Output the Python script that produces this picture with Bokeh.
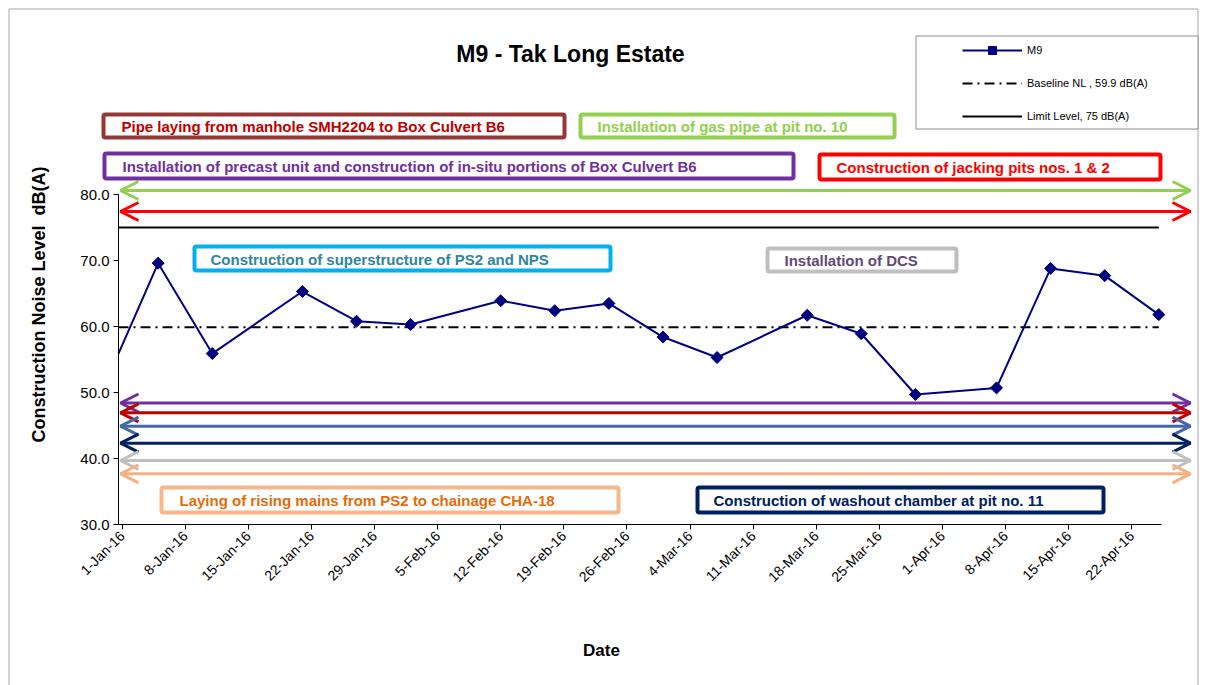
import math
from datetime import datetime

from bokeh.plotting import figure
from bokeh.models import (Range1d, FixedTicker, NumeralTickFormatter, Arrow, OpenHead,
                          BoxAnnotation, Label, Legend, LegendItem)
from bokeh.embed import file_html
from bokeh.resources import INLINE

# ------------------------------------------------------------------ data
chart_title = "M9 - Tak Long Estate"
y_axis_title = "Construction Noise Level \u00a0dB(A)"
x_axis_title = "Date"

dates = ["2015-12-30", "2016-01-05", "2016-01-11", "2016-01-21", "2016-01-27",
         "2016-02-02", "2016-02-12", "2016-02-18", "2016-02-24", "2016-03-01",
         "2016-03-07", "2016-03-17", "2016-03-23", "2016-03-29", "2016-04-07",
         "2016-04-13", "2016-04-19", "2016-04-25"]
m9_values = [50.9, 69.6, 55.9, 65.3, 60.8, 60.3, 63.9, 62.4, 63.5, 58.4,
             55.3, 61.7, 58.9, 49.7, 50.7, 68.8, 67.7, 61.8]
baseline_level = 59.9
limit_level = 75.0

series_labels = ["M9", "Baseline NL , 59.9 dB(A)", "Limit Level, 75 dB(A)"]

x_tick_labels = ["1-Jan-16", "8-Jan-16", "15-Jan-16", "22-Jan-16", "29-Jan-16",
                 "5-Feb-16", "12-Feb-16", "19-Feb-16", "26-Feb-16", "4-Mar-16",
                 "11-Mar-16", "18-Mar-16", "25-Mar-16", "1-Apr-16", "8-Apr-16",
                 "15-Apr-16", "22-Apr-16"]
y_ticks = [30, 40, 50, 60, 70, 80]

activity_texts = [
    "Pipe laying from manhole SMH2204 to Box Culvert B6",
    "Installation of gas pipe at pit no. 10",
    "Installation of precast unit and construction of in-situ portions of Box Culvert B6",
    "Construction of jacking pits nos. 1 & 2",
    "Construction of superstructure of PS2 and NPS",
    "Installation of DCS",
    "Laying of rising mains from PS2 to chainage CHA-18",
    "Construction of washout chamber at pit no. 11",
]

# ------------------------------------------------------------------ layout / styles
W, H = 1206, 685
FL, FR, FT, FB = 118, 1161, 194, 524          # axes box in canvas pixels
X0, X1 = -0.4, 115.3                           # date axis span, days from 1-Jan-2016
Y0, Y1 = 30, 80
FONT = "Liberation Sans"


def dx(px):
    return X0 + (px - FL) * (X1 - X0) / (FR - FL)


def dy(py):
    return Y0 + (FB - py) * (Y1 - Y0) / (FB - FT)


# box: (left, right, top, bottom, text_x) in canvas px, border colour, text colour
activity_layout = [
    ((101, 566, 112, 139, 121), "#953735", "#C00000"),
    ((578, 896, 112, 139, 597), "#92D050", "#92D050"),
    ((102, 795, 151, 180, 122), "#7030A0", "#7030A0"),
    ((817, 1162, 152, 181, 836), "#FF0000", "#FF0000"),
    ((192, 612, 244, 272, 210), "#00B0F0", "#31859C"),
    ((765, 958, 246, 273, 784), "#BFBFBF", "#604A7B"),
    ((159, 620, 485, 514, 179), "#F6B88A", "#E46C0A"),
    ((695, 1105, 485, 514, 713), "#002060", "#002060"),
]

# double-headed arrows: canvas y, colour
arrow_layout = [
    (190, "#92D050"),
    (211, "#FF0000"),
    (402.5, "#7030A0"),
    (412.3, "#C00000"),
    (425.7, "#4468A6"),
    (442.7, "#002060"),
    (460.0, "#BFBFBF"),
    (473.3, "#F4B183"),
]


def clip_line(xs, ys, lo, hi):
    """Clip a polyline to the x interval [lo, hi] (geometric clipping at the axis ends)."""
    cx, cy = [], []
    for (xa, ya), (xb, yb) in zip(zip(xs, ys), zip(xs[1:], ys[1:])):
        ta, tb = 0.0, 1.0
        if xb != xa:
            t_lo = (lo - xa) / (xb - xa)
            t_hi = (hi - xa) / (xb - xa)
            ta, tb = max(ta, min(t_lo, t_hi)), min(tb, max(t_lo, t_hi))
        elif not (lo <= xa <= hi):
            continue
        if ta > tb:
            continue
        p0 = (xa + ta * (xb - xa), ya + ta * (yb - ya))
        p1 = (xa + tb * (xb - xa), ya + tb * (yb - ya))
        if not cx or (cx[-1], cy[-1]) != p0:
            cx.append(p0[0]); cy.append(p0[1])
        cx.append(p1[0]); cy.append(p1[1])
    return cx, cy


# ------------------------------------------------------------------ figure
origin = datetime(2016, 1, 1)
x_days = [(datetime.strptime(d, "%Y-%m-%d") - origin).days for d in dates]
tick_days = [(datetime.strptime(t, "%d-%b-%y") - origin).days for t in x_tick_labels]

p = figure(width=W, height=H, x_range=Range1d(dx(0), dx(W)), y_range=Range1d(dy(H), dy(0)),
           output_backend="svg", toolbar_location=None,
           min_border_left=0, min_border_right=0, min_border_top=0, min_border_bottom=0)
p.outline_line_color = None
p.grid.visible = False
p.background_fill_color = "white"
p.border_fill_color = "white"

xa = p.xaxis[0]
xa.fixed_location = Y0
xa.bounds = (X0, X1)
xa.ticker = FixedTicker(ticks=tick_days)
xa.major_label_overrides = {d: lab for d, lab in zip(tick_days, x_tick_labels)}
xa.major_label_orientation = math.pi / 4
xa.major_label_text_font = FONT
xa.major_label_text_font_size = "14px"
xa.major_label_text_color = "black"
xa.major_label_standoff = 4
xa.major_tick_out = 5
xa.major_tick_in = 0
xa.minor_tick_line_color = None
xa.axis_line_color = "black"
xa.major_tick_line_color = "black"

ya = p.yaxis[0]
ya.fixed_location = X0
ya.bounds = (Y0, Y1)
ya.ticker = FixedTicker(ticks=y_ticks)
ya.formatter = NumeralTickFormatter(format="0.0")
ya.major_label_text_font = FONT
ya.major_label_text_font_size = "15px"
ya.major_label_text_color = "black"
ya.major_label_standoff = 4
ya.major_tick_out = 5
ya.major_tick_in = 0
ya.minor_tick_line_color = None
ya.axis_line_color = "black"
ya.major_tick_line_color = "black"

# outer chart border
p.add_layout(BoxAnnotation(left=dx(8.5), right=dx(1197.5), top=dy(8.5), bottom=dy(720),
                           fill_color=None, line_color="#a6a6a6", line_alpha=1.0, line_width=1))

# series (clipped to the date axis span)
lx, ly = clip_line([x_days[0], x_days[-1]], [limit_level, limit_level], X0, X1)
lim_r = p.line(lx, ly, line_color="black", line_width=2)
bx, by = clip_line([x_days[0], x_days[-1]], [baseline_level, baseline_level], X0, X1)
base_r = p.line(bx, by, line_color="black", line_width=2, line_dash="10 5 2 5")
mx, my = clip_line(x_days, m9_values, X0, X1)
line_r = p.line(mx, my, line_color="#000080", line_width=2)
vis = [(x, v) for x, v in zip(x_days, m9_values) if X0 <= x <= X1]
pts_r = p.scatter([x for x, _ in vis], [v for _, v in vis], marker="square",
                  angle=math.pi / 4, size=8.5, fill_color="#000080", line_color="#000080")

# arrows
for ypx, col in arrow_layout:
    p.add_layout(Arrow(x_start=dx(120), y_start=dy(ypx), x_end=dx(1190), y_end=dy(ypx),
                       line_color=col, line_width=3,
                       start=OpenHead(size=18, line_color=col, line_width=3),
                       end=OpenHead(size=18, line_color=col, line_width=3)))

# activity boxes
for txt, ((l, r, t, b, tx), bcol, tcol) in zip(activity_texts, activity_layout):
    p.add_layout(BoxAnnotation(left=dx(l + 2), right=dx(r - 2), top=dy(t + 2), bottom=dy(b - 2),
                               fill_color="white", fill_alpha=1.0,
                               line_color=bcol, line_alpha=1.0, line_width=4, border_radius=2))
    p.add_layout(Label(x=dx(tx), y=dy((t + b) / 2 + 0.5), text=txt, text_font=FONT,
                       text_font_size="15px", text_font_style="bold", text_color=tcol,
                       text_align="left", text_baseline="middle"))

# legend box + legend
p.add_layout(BoxAnnotation(left=dx(915.5), right=dx(1197.5), top=dy(35.5), bottom=dy(128.5),
                           fill_color="white", fill_alpha=1.0, line_color="#8c8c8c",
                           line_alpha=1.0, line_width=1))
legend = Legend(items=[LegendItem(label=series_labels[0], renderers=[line_r, pts_r]),
                       LegendItem(label=series_labels[1], renderers=[base_r]),
                       LegendItem(label=series_labels[2], renderers=[lim_r])],
                location=(962, H - 126), border_line_color=None,
                background_fill_alpha=0, margin=0, padding=4, spacing=13,
                glyph_width=60, glyph_height=20, label_height=20, label_standoff=5,
                label_text_font=FONT, label_text_font_size="11px", label_text_color="black")
p.add_layout(legend)

# titles
p.add_layout(Label(x=dx(570), y=dy(53), text=chart_title, text_font=FONT, text_font_size="23px",
                   text_font_style="bold", text_color="black", text_align="center",
                   text_baseline="middle"))
p.add_layout(Label(x=dx(38), y=dy(304), text=y_axis_title, angle=math.pi / 2, text_font=FONT,
                   text_font_size="18px", text_font_style="bold", text_color="black",
                   text_align="center", text_baseline="middle"))
p.add_layout(Label(x=dx(601), y=dy(650), text=x_axis_title, text_font=FONT, text_font_size="17px",
                   text_font_style="bold", text_color="black", text_align="center",
                   text_baseline="middle"))

open("out.html", "w").write(file_html(p, INLINE))
